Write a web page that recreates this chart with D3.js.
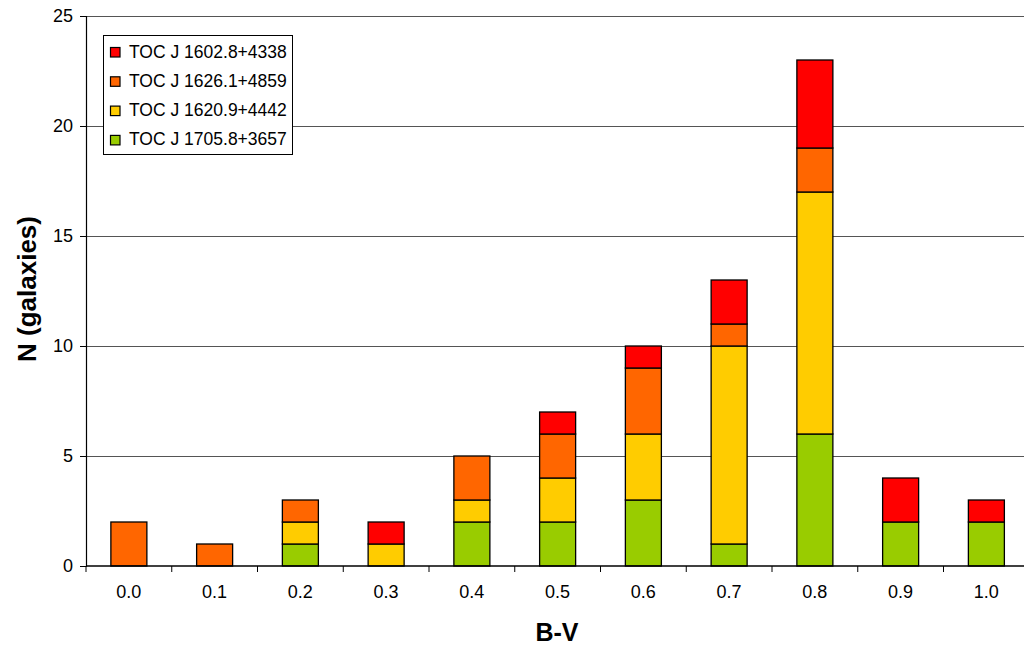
<!DOCTYPE html>
<html>
<head>
<meta charset="utf-8">
<script src="https://cdn.jsdelivr.net/npm/d3@7/dist/d3.min.js"></script>
<style>
  html, body { margin: 0; padding: 0; background: #fff; }
  svg { display: block; font-family: Arial, "Liberation Sans", sans-serif; }
</style>
</head>
<body>
<svg id="chart" width="1024" height="646"></svg>
<script>
// B-V colour bins
const categories = ["0.0", "0.1", "0.2", "0.3", "0.4", "0.5", "0.6", "0.7", "0.8", "0.9", "1.0"];

// Galaxy counts per group (stacked bottom to top)
const seriesNames = ["TOC J 1705.8+3657", "TOC J 1620.9+4442", "TOC J 1626.1+4859", "TOC J 1602.8+4338"];
const toc1705 = [0, 0, 1, 0, 2, 2, 3, 1, 6, 2, 2];
const toc1620 = [0, 0, 1, 1, 1, 2, 3, 9, 11, 0, 0];
const toc1626 = [2, 1, 1, 0, 2, 2, 3, 1, 2, 0, 0];
const toc1602 = [0, 0, 0, 1, 0, 1, 1, 2, 4, 2, 1];
const seriesColors = ["#99CC00", "#FFCC00", "#FF6600", "#FF0000"];

const yTicks = [0, 5, 10, 15, 20, 25];

const rows = categories.map((c, i) => ({
  cat: c,
  s0: toc1705[i], s1: toc1620[i], s2: toc1626[i], s3: toc1602[i]
}));
const keys = ["s0", "s1", "s2", "s3"];

const svg = d3.select("#chart");
const plotLeft = 86, plotTop = 16, plotBottom = 566;
const band = 85.75;
const plotRight = plotLeft + band * categories.length;

const x = d3.scaleBand().domain(categories).range([plotLeft, plotRight]).paddingInner(0).paddingOuter(0);
const y = d3.scaleLinear().domain([0, 25]).range([plotBottom, plotTop]);
const barW = 36;

// horizontal gridlines
svg.append("g")
  .selectAll("line")
  .data(yTicks.filter(d => d > 0))
  .join("line")
  .attr("x1", plotLeft).attr("x2", plotRight)
  .attr("y1", d => y(d)).attr("y2", d => y(d))
  .attr("stroke", "#555").attr("stroke-width", 1)
  .attr("shape-rendering", "crispEdges");

// stacked bars
const stacked = d3.stack().keys(keys)(rows);
svg.append("g")
  .selectAll("g")
  .data(stacked)
  .join("g")
  .attr("fill", (d, i) => seriesColors[i])
  .selectAll("rect")
  .data(d => d.filter(p => p[1] - p[0] > 0))
  .join("rect")
  .attr("x", d => x(d.data.cat) + (x.bandwidth() - barW) / 2)
  .attr("width", barW)
  .attr("y", d => y(d[1]))
  .attr("height", d => y(d[0]) - y(d[1]))
  .attr("stroke", "#000")
  .attr("stroke-width", 1.3);

// y axis
const yAxis = svg.append("g")
  .attr("transform", `translate(${plotLeft},0)`)
  .call(d3.axisLeft(y).tickValues(yTicks).tickSize(6).tickPadding(7).tickFormat(d3.format("d")));
yAxis.select(".domain").attr("stroke", "#000").attr("stroke-width", 1.2);
yAxis.selectAll(".tick line").attr("stroke", "#000");
yAxis.selectAll("text").attr("font-size", 18).attr("fill", "#000")
  .attr("font-family", "Arial, 'Liberation Sans', sans-serif");

// x axis: ticks sit on bin boundaries
svg.append("line")
  .attr("x1", plotLeft).attr("x2", plotRight)
  .attr("y1", plotBottom).attr("y2", plotBottom)
  .attr("stroke", "#000").attr("stroke-width", 1.5);
const bounds = d3.range(categories.length + 1).map(i => plotLeft + i * band);
svg.append("g").selectAll("line")
  .data(bounds)
  .join("line")
  .attr("x1", d => d).attr("x2", d => d)
  .attr("y1", plotBottom).attr("y2", plotBottom + 6)
  .attr("stroke", "#000").attr("stroke-width", 1);
svg.append("g").selectAll("text")
  .data(categories)
  .join("text")
  .attr("x", d => x(d) + x.bandwidth() / 2)
  .attr("y", 598)
  .attr("text-anchor", "middle")
  .attr("font-size", 18)
  .text(d => d);

// axis titles
svg.append("text")
  .attr("x", 557).attr("y", 641)
  .attr("text-anchor", "middle")
  .attr("font-size", 25).attr("font-weight", "bold")
  .text("B-V");
svg.append("text")
  .attr("transform", "translate(36,289) rotate(-90)")
  .attr("text-anchor", "middle")
  .attr("font-size", 26).attr("font-weight", "bold")
  .text("N (galaxies)");

// legend (top series first)
const legend = svg.append("g");
legend.append("rect")
  .attr("x", 103.5).attr("y", 35.5).attr("width", 189).attr("height", 119)
  .attr("fill", "#fff").attr("stroke", "#000").attr("stroke-width", 1);
const legendOrder = [3, 2, 1, 0];
legendOrder.forEach((si, i) => {
  const base = 57.5 + i * 29.3;
  legend.append("rect")
    .attr("x", 110.5).attr("y", base - 10).attr("width", 9.5).attr("height", 9.5)
    .attr("fill", seriesColors[si]).attr("stroke", "#000").attr("stroke-width", 1.2);
  legend.append("text")
    .attr("x", 129).attr("y", base)
    .attr("font-size", 17.5)
    .text(seriesNames[si]);
});
</script>
</body>
</html>
